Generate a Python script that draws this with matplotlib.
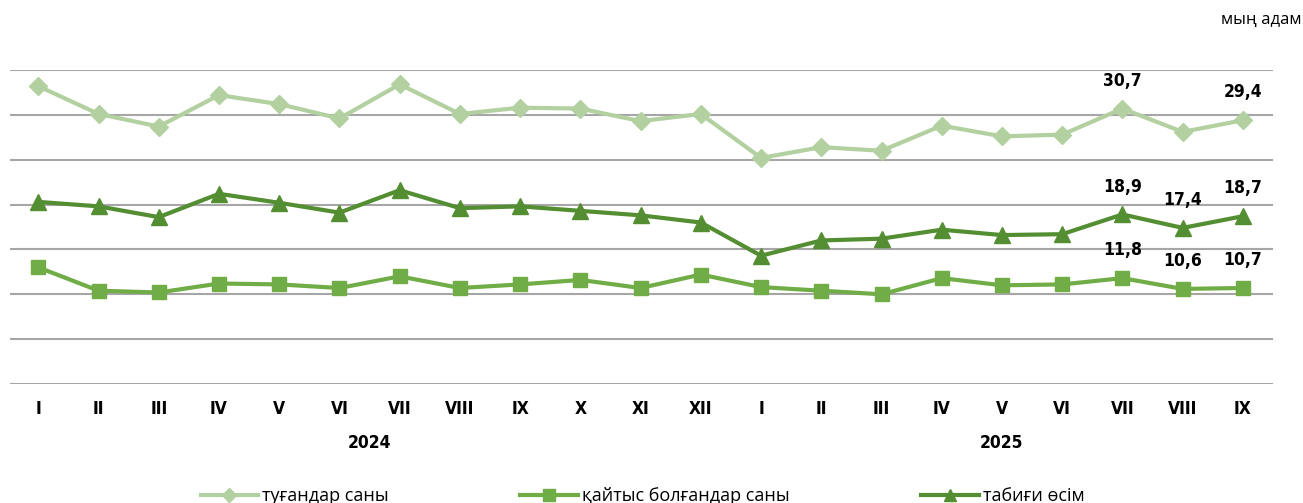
import numpy as np
import matplotlib.pyplot as plt
from matplotlib.lines import Line2D

# данные, мың адам
months = ['I', 'II', 'III', 'IV', 'V', 'VI', 'VII', 'VIII', 'IX', 'X', 'XI', 'XII',
          'I', 'II', 'III', 'IV', 'V', 'VI', 'VII', 'VIII', 'IX']
births = [33.2, 30.1, 28.7, 32.2, 31.2, 29.6, 33.4, 30.1, 30.8, 30.7, 29.3, 30.1,
          25.2, 26.4, 26.0, 28.8, 27.6, 27.8, 30.7, 28.1, 29.4]
deaths = [13.0, 10.4, 10.2, 11.2, 11.1, 10.7, 12.0, 10.7, 11.1, 11.6, 10.7, 12.2,
          10.8, 10.4, 10.0, 11.8, 11.0, 11.1, 11.8, 10.6, 10.7]
growth = [20.3, 19.8, 18.6, 21.2, 20.2, 19.1, 21.6, 19.6, 19.8, 19.3, 18.8, 18.0,
          14.3, 16.0, 16.2, 17.2, 16.6, 16.7, 18.9, 17.4, 18.7]
years = ['2024', '2025']
labels = ['туғандар саны', 'қайтыс болғандар саны', 'табиғи өсім']

# подписи значений: (ряд, индекс)
annot = [(births, 18), (births, 20),
         (growth, 18), (growth, 19), (growth, 20),
         (deaths, 18), (deaths, 19), (deaths, 20)]

c_b = '#b3d0a0'
c_d = '#70ad47'
c_g = '#548e32'
bold = dict(family='DejaVu Sans', fontstretch='condensed', fontweight='bold', fontsize=12.5)
text_font = ['Open Sans', 'DejaVu Sans']

fig = plt.figure(figsize=(13.03, 5.03), dpi=100)
ax = fig.add_axes([10/1303, 1 - 384/503, 1263/1303, 314/503])

x = np.arange(len(months))
ax.plot(x, births, color=c_b, lw=3, marker='D', ms=9, label=labels[0], zorder=3)
ax.plot(x, deaths, color=c_d, lw=3, marker='s', ms=10, label=labels[1], zorder=3)
ax.plot(x, growth, color=c_g, lw=3, marker='^', ms=11, label=labels[2], zorder=3)

for ser, i in annot:
    ax.annotate(f'{ser[i]:.1f}'.replace('.', ','), (x[i], ser[i]),
                xytext=(0, 20), textcoords='offset points', ha='center', va='center',
                **bold)

ax.set_xlim(-0.47, 20.5)
ax.set_ylim(0, 35)
ax.set_yticks(np.arange(0, 36, 5))
ax.yaxis.grid(True, color='#a6a6a6', lw=1.5)
ax.set_axisbelow(True)
ax.tick_params(left=False, labelleft=False, bottom=False)
for s in ax.spines.values():
    s.set_visible(False)
ax.set_xticks(x)
ax.set_xticklabels(months, **bold)
ax.tick_params(axis='x', pad=8)

ax.text(5.5, -6.6, years[0], ha='center', va='center', **bold)
ax.text(16, -6.6, years[1], ha='center', va='center', **bold)

fig.text(0.999, 1 - 20/503, 'мың адам', ha='right', va='center', fontsize=12,
         family=text_font)

handles = [Line2D([], [], color=c_b, lw=3, marker='D', ms=7),
           Line2D([], [], color=c_d, lw=3, marker='s', ms=8),
           Line2D([], [], color=c_g, lw=3, marker='^', ms=9)]
fig.legend(handles, labels, loc='center', bbox_to_anchor=(0.493, 1 - 496/503),
           ncol=3, frameon=False, handlelength=3.2, handletextpad=0.2,
           columnspacing=7.3, prop={'family': text_font, 'size': 13})

fig.savefig('out.png', dpi=100)
